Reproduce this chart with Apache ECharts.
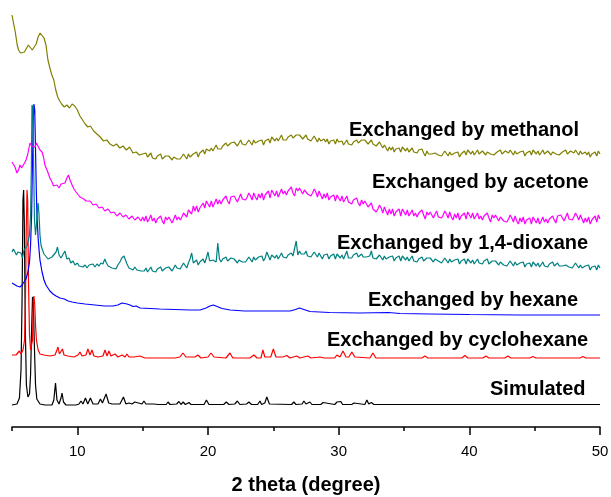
<!DOCTYPE html>
<html><head><meta charset="utf-8">
<script src="https://cdn.jsdelivr.net/npm/echarts@6/dist/echarts.min.js"></script>
<style>html,body{margin:0;padding:0;background:#fff}#c{width:611px;height:497px}</style>
</head><body><div id="c"></div>
<script>
// ---- axis ticks ----
const xMajorTicks = [10, 20, 30, 40, 50];
const xMinorTicks = [5, 15, 25, 35, 45];
const xTitle = '2 theta (degree)';

// ---- series names / colours ----
const seriesNames = ['Simulated', 'Exchanged by cyclohexane', 'Exchanged by hexane',
  'Exchanged by 1,4-dioxane', 'Exchanged by acetone', 'Exchanged by methanol'];
const seriesColors = ['#000000', '#ff0000', '#0000ff', '#008080', '#ff00ff', '#808000'];

// ---- data: [2theta, offset intensity (a.u.)] ----
const simulated = [[5.0,22],[5.38,23],[5.57,29],[5.69,57],[5.77,127],[5.84,227],[5.89,237],[5.94,207],[6.02,97],[6.1,42],[6.22,30],[6.34,33],[6.42,52],[6.5,97],[6.57,130],[6.63,127],[6.7,87],[6.8,42],[6.9,28],[7.14,23],[7.52,22],[8.06,22],[8.2,27],[8.33,44],[8.44,27],[8.6,23],[8.75,29],[8.83,34],[8.94,25],[9.13,22],[9.9,22],[10.13,23],[10.28,26],[10.43,23],[10.62,29],[10.8,23],[11.0,29],[11.2,23],[11.58,23],[11.77,28],[11.92,24],[12.2,33],[12.4,24],[12.5,26],[12.65,23],[13.26,23],[13.53,30],[13.72,23],[13.95,24],[14.07,26],[14.18,23],[14.4,25],[14.53,23],[14.95,23],[15.1,26],[15.25,23],[15.86,23],[16.0,24.5],[16.17,22.5],[16.8,22.5],[16.94,25],[17.1,22.5],[17.6,23],[17.78,25.5],[17.93,22.5],[18.1,25],[18.27,22.5],[18.54,24.5],[18.7,22.5],[19.7,22.5],[19.88,27],[20.07,22.5],[21.2,22.5],[21.4,25],[21.6,22.5],[22.05,23],[22.25,26],[22.44,22.5],[22.95,23],[23.13,25],[23.33,22.5],[23.8,22.5],[23.98,26],[24.1,22.5],[24.35,24],[24.5,30],[24.7,23],[26.4,22.5],[26.57,25],[26.73,22.5],[27.2,23],[27.34,26],[27.5,23],[27.8,25],[27.95,22.5],[28.64,22.5],[28.8,24.5],[28.95,22.5],[29.7,22.5],[29.87,25],[30.0,23],[30.17,25.5],[30.3,22.5],[31.0,22.5],[31.17,24],[31.3,22.5],[32.0,22.5],[32.16,27],[32.3,23],[32.5,24.5],[32.7,22.5],[33.8,22.5],[33.92,24.5],[34.04,22.5],[34.64,22.5],[34.76,24],[34.88,22.5],[35.56,22.5],[35.68,24],[35.8,22.5],[36.55,22.5],[36.67,24],[36.79,22.5],[37.63,22.5],[37.75,24],[37.87,22.5],[38.78,22.5],[38.9,23.5],[39.02,22.5],[39.92,22.5],[40.04,24],[40.16,22.5],[41.07,22.5],[41.19,23.5],[41.31,22.5],[42.22,22.5],[42.34,23.5],[42.46,22.5],[43.75,22.5],[43.87,23.5],[43.99,22.5],[45.28,22.5],[45.4,23.5],[45.52,22.5],[46.82,22.5],[46.94,23.5],[47.06,22.5],[48.95,22.5],[49.07,24.5],[49.19,22.5],[50,22.5]];

const cyclohexane = [[5.0,72],[5.31,72],[5.46,73],[5.57,76],[5.69,73],[5.84,77],[5.96,87],[6.03,127],[6.09,197],[6.15,237],[6.2,227],[6.26,147],[6.34,92],[6.42,77],[6.5,75],[6.57,87],[6.63,127],[6.68,131],[6.74,122],[6.8,102],[6.87,87],[7.0,77],[7.14,73],[7.45,72],[7.91,71],[8.29,72],[8.44,77],[8.52,80],[8.63,73],[8.75,72],[8.86,78],[8.98,72],[9.28,71],[9.74,70],[10.05,72],[10.2,75],[10.36,71],[10.66,72],[10.81,78],[10.97,72],[11.12,77],[11.27,71],[11.58,70],[11.96,71],[12.12,77],[12.27,71],[12.42,76],[12.57,71],[12.88,73],[13.11,70],[13.42,72],[13.65,70],[13.8,73],[13.95,70],[14.1,72],[14.33,70],[14.79,71],[15.18,69],[16.32,69],[17.47,69],[17.85,70],[18.08,74],[18.31,70],[19.0,70],[19.23,72],[19.46,69],[20.0,70],[20.23,74],[20.46,70],[21.37,69],[21.68,74],[21.9,69],[23.2,69],[23.52,72],[23.75,69],[24.05,69],[24.2,77],[24.35,70],[24.8,70],[25.0,78],[25.2,70],[25.73,70],[26.04,71.5],[26.27,69],[26.8,71],[27.03,69],[27.64,71],[27.88,69],[28.57,70],[28.88,69],[29.7,69],[29.86,72],[30.1,70],[30.33,76],[30.56,70],[30.78,70],[31.01,75],[31.24,70],[32.39,69],[32.62,74],[32.85,69],[34.69,69],[36.37,69],[36.6,71],[36.83,69],[39.43,69],[39.66,71.5],[39.89,69],[41.04,69],[41.27,71],[41.5,69],[42.72,69],[42.95,71],[43.18,69],[44.63,69],[44.86,70.5],[45.09,69],[48.46,69],[48.69,70.5],[48.92,69],[50,69]];

const hexane = [[5.0,144],[5.15,142],[5.38,141],[5.61,140],[5.77,142],[5.92,144],[6.07,148],[6.22,155],[6.34,165],[6.42,182],[6.5,212],[6.57,267],[6.63,309],[6.68,323],[6.74,317],[6.8,277],[6.86,237],[6.91,212],[7.0,189],[7.07,177],[7.14,167],[7.22,161],[7.3,155],[7.45,147],[7.6,142],[7.75,139],[7.9,136],[8.14,133],[8.37,131],[8.67,129],[9.0,128],[9.3,126],[9.6,125],[10.0,124],[10.6,123],[11.35,122],[12.1,121],[12.73,121],[13.1,122],[13.42,124],[13.57,124.5],[13.8,123],[14.03,122],[14.26,120.5],[14.5,121],[14.8,119],[15.56,118.5],[16.3,118],[17.47,117.5],[18.6,117],[19.4,117],[19.85,119],[20.15,121],[20.4,122],[20.7,120.5],[21.07,118.5],[21.7,117],[22.8,116],[24.0,116],[25.1,116],[26.27,116],[26.7,117.5],[27.0,119],[27.34,117.5],[27.8,115.5],[29.3,114.5],[31.6,114],[33.8,114.5],[34.7,113.5],[37.0,113],[40.0,112.5],[43.9,112],[46.9,112],[50.0,112]];

const dioxaneHead = [[5.0,175],[5.11,178],[5.23,176],[5.34,172],[5.46,175],[5.57,173],[5.69,174],[5.8,169],[5.92,177],[6.03,175],[6.15,181],[6.26,183],[6.34,192],[6.42,212],[6.48,257],[6.53,322],[6.6,319],[6.65,267],[6.72,207],[6.8,192],[6.87,202],[6.95,219],[7.0,224],[7.07,212],[7.14,192],[7.22,182],[7.33,177],[7.45,173],[7.6,171],[7.75,168],[7.9,166],[8.06,170],[8.2,168],[8.37,175],[8.48,180],[8.6,172],[8.75,169],[8.9,171],[9.05,176],[9.2,168],[9.36,169],[9.5,164],[9.67,166],[9.82,162],[10.0,164],[10.13,161],[10.28,163],[10.43,160],[10.6,162],[10.74,159],[10.9,162],[11.04,160],[11.2,163],[11.35,160],[11.5,163],[11.66,161],[11.8,164],[11.96,163],[12.1,168],[12.23,164],[12.35,161],[12.5,163],[12.65,159],[12.8,161],[12.96,158],[13.1,162],[13.26,165],[13.4,169],[13.57,171],[13.68,170],[13.8,163],[13.95,159],[14.1,161],[14.26,157],[14.4,160],[14.56,157],[14.7,159],[14.87,156]];
// values on a 0.125-degree grid starting at 15 (8 per degree)
const dioxaneTail = [
158,156,159,155,157,160,156,158, 155,158,157,160,156,154,159,157, 160,158,156,159,162,159,160,158,
161,164,162,159,164,168,174,164, 164,167,162,165,167,168,164,169, 175,166,164,167,168,165,184,168,
165,168,167,170,166,164,169,167, 168,166,164,167,169,165,167,165, 167,170,168,165,170,167,165,170,
168,171,166,169,175,171,167,172, 171,169,172,168,170,174,170,172, 169,172,171,174,171,169,186,172,
176,173,171,173,176,171,172,170, 172,175,173,170,174,171,168,172, 170,173,168,171,171,173,168,173,
171,169,172,168,170,176,169,171, 169,172,171,174,170,168,173,170, 172,170,168,171,176,169,170,168,
169,172,170,167,171,168,166,170, 168,171,166,169,169,171,166,171, 169,167,170,166,167,171,166,168,
165,168,167,170,166,164,169,167, 169,167,165,168,170,166,166,164, 166,169,167,164,168,165,163,167,
165,168,163,166,166,168,163,168, 166,164,167,163,165,168,164,166, 163,166,165,168,163,161,166,164,
166,164,162,165,167,162,163,161, 163,166,164,161,165,162,160,164, 162,165,160,163,163,164,160,165,
163,161,164,160,162,165,161,163, 160,163,162,165,161,159,164,161, 163,161,159,162,164,160,161,159,
161,164,162,159,162,159,157,161, 159,162,157,160,160,161,157,162, 159];

const acetoneHead = [[5.0,265],[5.1,263],[5.23,260],[5.38,254],[5.5,257],[5.61,262],[5.73,259],[5.84,259],[5.96,264],[6.07,267],[6.19,272],[6.3,279],[6.38,284],[6.5,281],[6.6,279],[6.76,280],[6.87,284],[7.0,282],[7.14,277],[7.3,275],[7.41,270],[7.52,262],[7.68,257],[7.8,255],[7.9,249],[8.06,245],[8.18,241],[8.3,240],[8.44,242],[8.6,239],[8.75,243],[8.9,242],[9.05,244],[9.2,249],[9.32,252],[9.44,247],[9.6,242],[9.74,238],[9.9,235],[10.05,233],[10.2,230],[10.35,231],[10.5,228],[10.66,226],[10.8,225],[10.97,226],[11.2,222],[11.43,223],[11.66,219],[11.9,220],[12.1,216],[12.35,218],[12.57,214],[12.8,215],[13.03,211],[13.26,214],[13.5,210],[13.72,212],[13.95,208],[14.18,211],[14.4,207],[14.64,210],[14.87,206]];
const acetoneTail = [
210,206,211,205,208,212,206,209, 204,208,207,211,206,203,210,207, 210,207,204,208,212,207,210,207,
210,214,212,210,217,216,213,221, 216,221,215,219,221,224,219,226, 224,220,226,220,224,228,223,227,
223,227,226,231,226,223,230,228, 231,228,225,229,233,228,230,227, 230,234,231,227,234,230,227,233,
229,234,227,232,233,236,229,237, 235,231,236,230,234,238,233,236, 232,236,235,240,234,231,239,236,
239,236,233,237,239,233,235,231, 234,238,235,230,236,232,228,233, 229,234,227,230,230,232,226,232,
230,226,231,225,227,231,225,227, 223,227,226,229,224,221,227,223, 226,223,220,222,224,218,219,215,
218,222,219,214,220,216,212,218, 213,218,211,215,215,218,211,218, 216,212,217,211,213,217,211,214,
210,214,213,217,212,208,215,212, 215,212,209,213,216,210,212,209, 212,216,213,209,215,210,207,213,
209,214,207,211,212,214,208,215, 213,209,214,208,210,214,208,211, 207,211,210,214,209,205,212,209,
212,209,206,210,212,206,208,205, 208,212,209,205,211,206,203,209, 205,210,203,207,207,209,203,210,
208,204,209,203,206,210,205,208, 204,208,207,211,207,204,211,209, 212,209,206,210,214,208,210,207,
210,214,211,207,212,208,204,209, 205,210,203,207,208,211,205,212, 208];

const methanolHead = [[5.0,412],[5.1,405],[5.25,395],[5.4,382],[5.5,377],[5.65,374],[5.8,372],[5.95,375],[6.1,377],[6.25,382],[6.4,381],[6.55,377],[6.7,380],[6.85,383],[7.0,390],[7.15,394],[7.3,393],[7.45,389],[7.6,382],[7.75,367],[7.9,359],[8.05,352],[8.2,347],[8.35,337],[8.5,330],[8.65,326],[8.8,323],[9.0,320],[9.2,322],[9.4,319],[9.6,323],[9.8,321],[10.0,317],[10.2,311],[10.4,307],[10.6,303],[10.8,300],[11.0,301],[11.25,296],[11.5,293],[11.75,290],[12.0,286],[12.25,287],[12.5,283],[12.75,281],[13.0,283],[13.25,279],[13.5,281],[13.75,277],[14.0,280],[14.25,274],[14.5,275],[14.75,272]];
const methanolTail = [
273,271,274,270,271,274,269,271, 268,271,270,273,268,266,271,269, 271,269,267,270,272,268,270,268,
270,273,271,268,273,270,268,273, 272,275,270,274,276,277,273,278, 278,276,279,276,278,282,278,280,
278,281,280,284,281,279,284,282, 285,283,281,284,287,283,284,282, 284,287,285,282,287,284,282,286,
284,287,282,286,287,288,284,290, 288,286,289,286,288,292,287,289, 287,290,289,292,289,287,292,290,
292,290,288,290,292,288,289,286, 288,291,289,285,289,286,284,288, 285,288,283,286,286,287,283,288,
285,283,286,282,284,287,283,285, 282,285,284,287,284,282,287,285, 287,285,283,285,287,283,283,281,
282,285,283,279,282,279,276,280, 277,280,275,278,278,279,275,280, 278,276,279,275,276,279,275,277,
274,277,276,278,274,271,276,273, 275,273,271,274,276,272,273,271, 273,276,274,271,275,272,270,274,
272,275,270,273,274,276,272,277, 275,273,276,272,274,277,273,275, 276,274,272,275,277,273,274,272,
272,275,274,277,273,271,276,274, 274,277,275,272,276,273,271,275, 273,276,271,274,275,276,272,277,
275,273,276,272,274,277,273,275, 276,274,272,275,277,273,274,272, 272,275,274,277,273,271,276,274,
274,277,275,272,276,273,271,275, 272,275,270,273,274,275,271,276, 273];

const tailStart = 15, tailStep = 0.125;
function joinTail(head, tail) {
  return head.concat(tail.map((v, i) => [tailStart + i * tailStep, v]));
}
const seriesData = [simulated, cyclohexane, hexane,
  joinTail(dioxaneHead, dioxaneTail), joinTail(acetoneHead, acetoneTail), joinTail(methanolHead, methanolTail)];

// label placement (pixels)
const labelPos = [[490, 389], [327, 340], [368, 300], [337, 243], [372, 182], [349, 130]];

const chart = echarts.init(document.getElementById('c'), null, {renderer: 'canvas'});
const FONT = '"Liberation Sans", Arial, sans-serif';
chart.setOption({
  animation: false,
  backgroundColor: '#fff',
  grid: {left: 12, right: 11, top: 0, bottom: 70, containLabel: false, outerBoundsMode: 'none'},
  xAxis: [{
    type: 'value', min: 5, max: 50, position: 'bottom',
    name: xTitle, nameLocation: 'middle', nameGap: 48,
    nameTextStyle: {fontFamily: FONT, fontSize: 20, fontWeight: 'bold', color: '#000'},
    axisLine: {show: true, lineStyle: {color: '#000', width: 1.5}},
    axisTick: {show: true, customValues: xMajorTicks, length: 8, lineStyle: {color: '#000', width: 1.5}},
    axisLabel: {show: true, customValues: xMajorTicks, margin: 17, fontFamily: FONT, fontSize: 15, color: '#000'},
    splitLine: {show: false}
  }, {
    type: 'value', min: 5, max: 50, position: 'bottom', gridIndex: 0,
    axisLine: {show: false},
    axisTick: {show: true, customValues: xMinorTicks, length: 4, lineStyle: {color: '#000', width: 1.5}},
    axisLabel: {show: false},
    splitLine: {show: false}
  }],
  yAxis: {type: 'value', min: 0, max: 427, show: false},
  series: seriesData.map((d, i) => ({
    name: seriesNames[i], type: 'line', data: d, xAxisIndex: 0,
    showSymbol: false, symbol: 'none', smooth: false,
    lineStyle: {color: seriesColors[i], width: 1.2}, z: 2 + i
  })),
  graphic: seriesNames.map((n, i) => ({
    type: 'text', x: labelPos[i][0], y: labelPos[i][1],
    style: {text: n, fill: '#000', font: 'bold 20px ' + FONT, align: 'left', verticalAlign: 'middle'}
  }))
});
</script></body></html>
